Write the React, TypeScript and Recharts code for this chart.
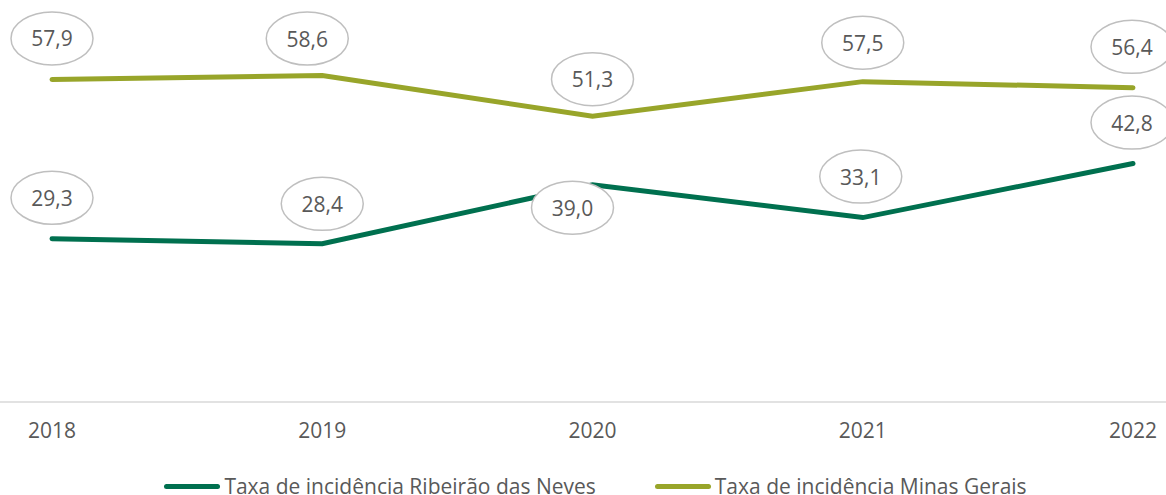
import React from 'react';
import { LineChart, Line, XAxis, YAxis, LabelList, Legend } from 'recharts';

const years = ['2018', '2019', '2020', '2021', '2022'];
const ribeiraoValues = [29.3, 28.4, 39.0, 33.1, 42.8];
const minasValues = [57.9, 58.6, 51.3, 57.5, 56.4];
const seriesNames = ['Taxa de incidência Ribeirão das Neves', 'Taxa de incidência Minas Gerais'];
const seriesColors = ['#00704F', '#98A52A'];

// label placement offsets (style, not data)
const ribeiraoLabelOffsets = [
  [0, -41],
  [0, -40],
  [-20, 23],
  [-2, -41],
  [-1, -41],
];
const minasLabelOffsets = [
  [0, -41],
  [-15, -37],
  [0, -37],
  [0, -39],
  [-1, -41],
];

const data = years.map((y, i) => ({
  year: y,
  ribeirao: ribeiraoValues[i],
  minas: minasValues[i],
}));

const FONT = "'Open Sans', sans-serif";

const makeLabel = (offsets: number[][]) => (props: any) => {
  const { x, y, value, index } = props;
  const [dx, dy] = offsets[index] || [0, -40];
  const cx = x + dx;
  const cy = y + dy;
  return (
    <g>
      <ellipse cx={cx} cy={cy} rx={41} ry={26.5} fill="#ffffff" stroke="#BFBFBF" strokeWidth={1.5} />
      <text
        x={cx}
        y={cy}
        textAnchor="middle"
        dominantBaseline="central"
        fontFamily={FONT}
        fontSize={21}
        fill="#595959"
      >
        {Number(value).toFixed(1).replace('.', ',')}
      </text>
    </g>
  );
};

const renderLegend = () => (
  <div
    style={{
      height: 43,
      display: 'flex',
      justifyContent: 'center',
      alignItems: 'flex-end',
      fontFamily: FONT,
      fontSize: 21,
      color: '#595959',
      boxSizing: 'border-box',
      paddingLeft: 25,
    }}
  >
    {seriesNames.map((name, i) => (
      <div key={name} style={{ display: 'flex', alignItems: 'center', marginRight: i === 0 ? 59 : 0, height: 18 }}>
        <div style={{ width: 56, height: 5, borderRadius: 3, background: seriesColors[i], marginRight: 4 }} />
        <span style={{ whiteSpace: 'nowrap', lineHeight: '18px' }}>{name}</span>
      </div>
    ))}
  </div>
);

export default function App() {
  return (
    <div style={{ position: 'absolute', left: 0, top: 0, background: '#fff' }}>
      <LineChart width={1166} height={495} data={data} margin={{ top: 12, right: 0, left: 0, bottom: 0 }}>
        <XAxis
          dataKey="year"
          padding={{ left: 52, right: 33 }}
          height={50}
          tickLine={false}
          axisLine={{ stroke: '#D9D9D9', strokeWidth: 1.5 }}
          tick={{ fontFamily: FONT, fontSize: 21, fill: '#595959' }}
          tickMargin={15}
          interval={0}
        />
        <YAxis hide domain={[0, 70]} />
        <Legend verticalAlign="bottom" content={renderLegend} wrapperStyle={{ height: 43 }} />
        <Line
          dataKey="ribeirao"
          stroke={seriesColors[0]}
          strokeWidth={5}
          strokeLinecap="round"
          dot={false}
          isAnimationActive={false}
        >
          <LabelList dataKey="ribeirao" content={makeLabel(ribeiraoLabelOffsets)} />
        </Line>
        <Line
          dataKey="minas"
          stroke={seriesColors[1]}
          strokeWidth={5}
          strokeLinecap="round"
          dot={false}
          isAnimationActive={false}
        >
          <LabelList dataKey="minas" content={makeLabel(minasLabelOffsets)} />
        </Line>
      </LineChart>
    </div>
  );
}
